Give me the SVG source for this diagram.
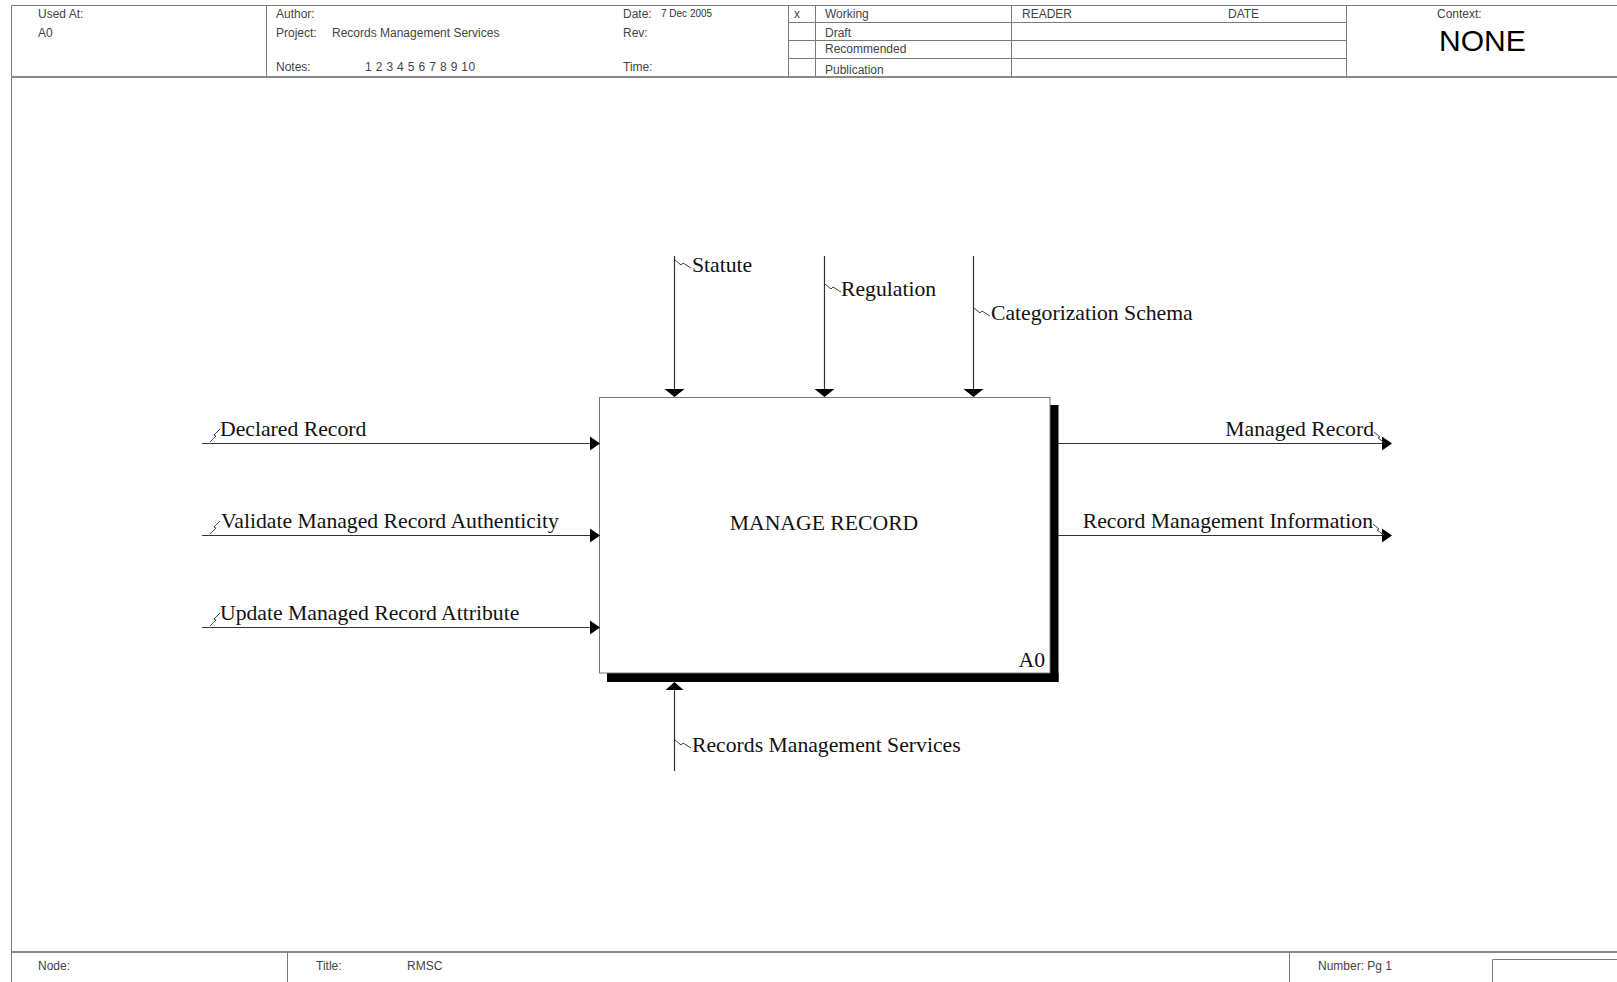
<svg xmlns="http://www.w3.org/2000/svg" width="1617" height="982" viewBox="0 0 1617 982">
<style>
.frame{stroke:#7a7a7a;stroke-width:1;fill:none}
.frame2{stroke:#8a8a8a;stroke-width:2;fill:none}
.hd{font-family:"Liberation Sans",Arial,sans-serif;font-size:12px;fill:#444}
.sm{font-family:"Liberation Sans",Arial,sans-serif;font-size:10px;fill:#333}
.big{font-family:"Liberation Sans",Arial,sans-serif;font-size:30px;fill:#000}
.lbl{font-family:"Liberation Serif","Times New Roman",serif;font-size:21.7px;fill:#111}
.arr{stroke:#333;stroke-width:1.2;fill:none}
.sq{stroke:#444;stroke-width:1;fill:none}
.head{fill:#000}
</style>
<rect width="1617" height="982" fill="#fff"/>
<g id="frame">
<line class="frame" x1="11.5" y1="5.5" x2="1617" y2="5.5"/>
<line class="frame" x1="11.5" y1="5.5" x2="11.5" y2="982"/>
<line class="frame2" x1="11" y1="77" x2="1617" y2="77"/>
<line class="frame2" x1="11" y1="952" x2="1617" y2="952"/>
<line class="frame" x1="266.5" y1="5" x2="266.5" y2="77"/>
<line class="frame" x1="788.5" y1="5" x2="788.5" y2="77"/>
<line class="frame" x1="815.5" y1="5" x2="815.5" y2="77"/>
<line class="frame" x1="1011.5" y1="5" x2="1011.5" y2="77"/>
<line class="frame" x1="1346.5" y1="5" x2="1346.5" y2="77"/>
<line class="frame" x1="788" y1="22.5" x2="1346" y2="22.5"/>
<line class="frame" x1="788" y1="40.5" x2="1346" y2="40.5"/>
<line class="frame" x1="788" y1="58.5" x2="1346" y2="58.5"/>
<line class="frame" x1="287.5" y1="952" x2="287.5" y2="982"/>
<line class="frame" x1="1289.5" y1="952" x2="1289.5" y2="982"/>
<line class="frame" x1="1492.5" y1="959.5" x2="1617" y2="959.5"/>
<line class="frame" x1="1492.5" y1="959.5" x2="1492.5" y2="982"/>
<text class="hd" x="38" y="17.5">Used At:</text>
<text class="hd" x="38" y="36.5">A0</text>
<text class="hd" x="276" y="17.5">Author:</text>
<text class="hd" x="276" y="36.5">Project:</text>
<text class="hd" x="332" y="36.5">Records Management Services</text>
<text class="hd" x="276" y="71">Notes:</text>
<text class="hd" x="365" y="71" letter-spacing="0.35">1 2 3 4 5 6 7 8 9 10</text>
<text class="hd" x="623" y="17.5">Date:</text>
<text class="sm" x="661" y="17">7 Dec 2005</text>
<text class="hd" x="623" y="36.5">Rev:</text>
<text class="hd" x="623" y="71">Time:</text>
<text class="hd" x="794" y="17.5">x</text>
<text class="hd" x="825" y="17.5">Working</text>
<text class="hd" x="825" y="36.5">Draft</text>
<text class="hd" x="825" y="53">Recommended</text>
<text class="hd" x="825" y="74">Publication</text>
<text class="hd" x="1022" y="17.5">READER</text>
<text class="hd" x="1228" y="17.5">DATE</text>
<text class="hd" x="1437" y="17.5">Context:</text>
<text class="big" x="1439" y="51">NONE</text>
<text class="hd" x="38" y="970">Node:</text>
<text class="hd" x="316" y="970">Title:</text>
<text class="hd" x="407" y="970">RMSC</text>
<text class="hd" x="1318" y="970">Number:  Pg 1</text>
</g>
<g id="A0">
<rect x="1050" y="405" width="8.5" height="277" fill="#000"/>
<rect x="607" y="673" width="451.5" height="9" fill="#000"/>
<rect x="599.5" y="397.5" width="450.5" height="275.5" fill="#fff" stroke="#777" stroke-width="1"/>
<text class="lbl" x="824" y="530" text-anchor="middle">MANAGE RECORD</text>
<text class="lbl" x="1045" y="667" text-anchor="end">A0</text>
</g>
<g id="connectors">
<g id="statute">
<line class="arr" x1="674.5" y1="256" x2="674.5" y2="390"/>
<path class="head" d="M664.5 389 L684.5 389 L674.5 397 Z"/>
<path class="sq" d="M675 260 L681 265 L683 263 L691 268"/>
<text class="lbl" x="692" y="272">Statute</text>
</g>
<g id="regulation">
<line class="arr" x1="824.5" y1="256" x2="824.5" y2="390"/>
<path class="head" d="M814.5 389 L834.5 389 L824.5 397 Z"/>
<path class="sq" d="M825 284 L831 289 L833 287 L841 292"/>
<text class="lbl" x="841" y="296">Regulation</text>
</g>
<g id="categorization">
<line class="arr" x1="973.5" y1="256" x2="973.5" y2="390"/>
<path class="head" d="M963.5 389 L983.5 389 L973.5 397 Z"/>
<path class="sq" d="M974 308 L980 313 L982 311 L990 316"/>
<text class="lbl" x="991" y="320">Categorization Schema</text>
</g>
<g id="declared">
<line class="arr" x1="202" y1="443.5" x2="592" y2="443.5"/>
<path class="head" d="M590 436.5 L600 443.5 L590 450.5 Z"/>
<path class="sq" d="M210 442 L216 436 L214 435 L220 429"/>
<text class="lbl" x="220" y="436">Declared Record</text>
</g>
<g id="validate">
<line class="arr" x1="202" y1="535.5" x2="592" y2="535.5"/>
<path class="head" d="M590 528.5 L600 535.5 L590 542.5 Z"/>
<path class="sq" d="M210 534 L216 528 L214 527 L220 521"/>
<text class="lbl" x="221" y="528">Validate Managed Record Authenticity</text>
</g>
<g id="update">
<line class="arr" x1="202" y1="627.5" x2="592" y2="627.5"/>
<path class="head" d="M590 620.5 L600 627.5 L590 634.5 Z"/>
<path class="sq" d="M210 626 L216 620 L214 619 L220 613"/>
<text class="lbl" x="220" y="620">Update Managed Record Attribute</text>
</g>
<g id="managed">
<line class="arr" x1="1058" y1="443.5" x2="1384" y2="443.5"/>
<path class="head" d="M1382 436.5 L1392 443.5 L1382 450.5 Z"/>
<path class="sq" d="M1374 432 L1380 437 L1378 438 L1385 443"/>
<text class="lbl" x="1374" y="436" text-anchor="end">Managed Record</text>
</g>
<g id="rmi">
<line class="arr" x1="1058" y1="535.5" x2="1384" y2="535.5"/>
<path class="head" d="M1382 528.5 L1392 535.5 L1382 542.5 Z"/>
<path class="sq" d="M1373 524 L1379 529 L1377 530 L1384 535"/>
<text class="lbl" x="1373" y="528" text-anchor="end">Record Management Information</text>
</g>
<g id="rms">
<line class="arr" x1="674.5" y1="689" x2="674.5" y2="771"/>
<path class="head" d="M665.5 690 L683.5 690 L674.5 682 Z"/>
<path class="sq" d="M675 740 L681 745 L683 743 L691 748"/>
<text class="lbl" x="692" y="752">Records Management Services</text>
</g>
</g>
</svg>
